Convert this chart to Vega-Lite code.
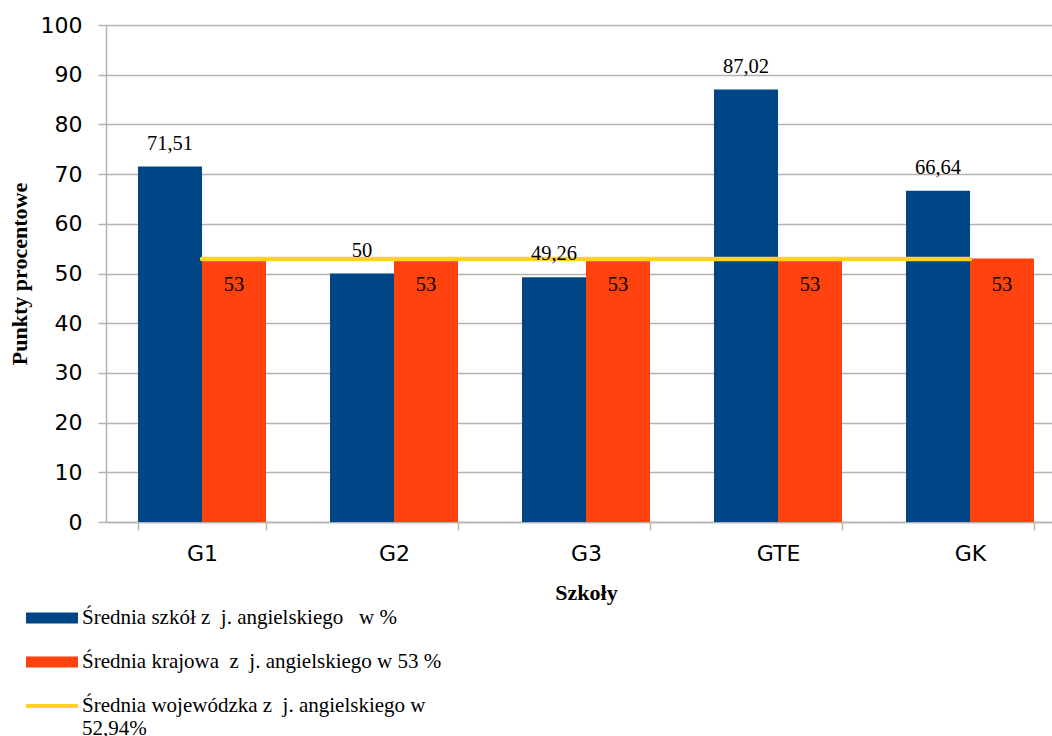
{
  "$schema": "https://vega.github.io/schema/vega-lite/v6.json",
  "autosize": {"type": "none"},
  "padding": {"left": 106, "top": 25, "right": 0, "bottom": 214},
  "width": 960,
  "height": 497,
  "datasets": {
    "bars": [
      {"school": "G1", "series": "Średnia szkół z\u00a0 j. angielskiego\u00a0\u00a0 w %", "value": 71.51},
      {"school": "G1", "series": "Średnia krajowa\u00a0 z\u00a0 j. angielskiego w 53 %", "value": 53},
      {"school": "G2", "series": "Średnia szkół z\u00a0 j. angielskiego\u00a0\u00a0 w %", "value": 50},
      {"school": "G2", "series": "Średnia krajowa\u00a0 z\u00a0 j. angielskiego w 53 %", "value": 53},
      {"school": "G3", "series": "Średnia szkół z\u00a0 j. angielskiego\u00a0\u00a0 w %", "value": 49.26},
      {"school": "G3", "series": "Średnia krajowa\u00a0 z\u00a0 j. angielskiego w 53 %", "value": 53},
      {"school": "GTE", "series": "Średnia szkół z\u00a0 j. angielskiego\u00a0\u00a0 w %", "value": 87.02},
      {"school": "GTE", "series": "Średnia krajowa\u00a0 z\u00a0 j. angielskiego w 53 %", "value": 53},
      {"school": "GK", "series": "Średnia szkół z\u00a0 j. angielskiego\u00a0\u00a0 w %", "value": 66.64},
      {"school": "GK", "series": "Średnia krajowa\u00a0 z\u00a0 j. angielskiego w 53 %", "value": 53}
    ],
    "line": [
      {"school": "G1", "series": "Średnia wojewódzka z\u00a0 j. angielskiego w 52,94%", "value": 52.94},
      {"school": "G2", "series": "Średnia wojewódzka z\u00a0 j. angielskiego w 52,94%", "value": 52.94},
      {"school": "G3", "series": "Średnia wojewódzka z\u00a0 j. angielskiego w 52,94%", "value": 52.94},
      {"school": "GTE", "series": "Średnia wojewódzka z\u00a0 j. angielskiego w 52,94%", "value": 52.94},
      {"school": "GK", "series": "Średnia wojewódzka z\u00a0 j. angielskiego w 52,94%", "value": 52.94}
    ]
  },
  "encoding": {
    "x": {
      "field": "school", "type": "nominal",
      "sort": ["G1", "G2", "G3", "GTE", "GK"],
      "scale": {"domain": ["G1", "G2", "G3", "GTE", "GK"], "paddingInner": 0.3333, "paddingOuter": 0.1667},
      "axis": {
        "title": "Szkoły", "labelAngle": 0, "grid": false, "tickBand": "extent",
        "labelFont": "DejaVu Sans", "labelFontSize": 22, "labelColor": "#000000", "labelPadding": 13,
        "tickSize": 8, "tickColor": "#b3b3b3", "domainColor": "#b3b3b3", "domainWidth": 1.5, "tickWidth": 1.5,
        "titleFont": "Liberation Serif", "titleFontSize": 22, "titleFontWeight": "bold", "titleColor": "#000000", "titlePadding": 18
      }
    },
    "y": {
      "field": "value", "type": "quantitative",
      "scale": {"domain": [0, 100], "nice": false},
      "axis": {
        "title": "Punkty procentowe", "values": [0, 10, 20, 30, 40, 50, 60, 70, 80, 90, 100],
        "labelFont": "DejaVu Sans", "labelFontSize": 22, "labelColor": "#000000", "labelPadding": 16,
        "tickSize": 8, "tickColor": "#b3b3b3", "domainColor": "#b3b3b3", "domainWidth": 1.5, "tickWidth": 1.5,
        "gridColor": "#b3b3b3", "gridWidth": 1.5,
        "titleFont": "Liberation Serif", "titleFontSize": 22, "titleFontWeight": "bold", "titleColor": "#000000", "titlePadding": 9
      }
    }
  },
  "layer": [
    {
      "data": {"name": "bars"},
      "mark": {"type": "bar"},
      "encoding": {
        "xOffset": {"field": "series", "type": "nominal", "scale": {"domain": ["Średnia szkół z\u00a0 j. angielskiego\u00a0\u00a0 w %", "Średnia krajowa\u00a0 z\u00a0 j. angielskiego w 53 %"], "paddingInner": 0, "paddingOuter": 0}},
        "color": {
          "field": "series", "type": "nominal",
          "scale": {
            "domain": ["Średnia szkół z\u00a0 j. angielskiego\u00a0\u00a0 w %", "Średnia krajowa\u00a0 z\u00a0 j. angielskiego w 53 %", "Średnia wojewódzka z\u00a0 j. angielskiego w 52,94%"],
            "range": ["#004586", "#ff420e", "#ffd320"]
          },
          "legend": {
            "title": null, "orient": "none", "legendX": -80, "legendY": 567, "direction": "vertical",
            "labelFont": "Liberation Serif", "labelFontSize": 21, "labelColor": "#000000", "labelLimit": 600,
            "labelOffset": 4, "rowPadding": 8, "symbolSize": 2704,
            "symbolType": "M-1,-0.212H1V0.212H-1Z",
            "symbolStrokeWidth": 0,
            "labelExpr": "datum.index == 2 ? ['Średnia wojewódzka z\u00a0 j. angielskiego w', '52,94%'] : datum.label",
            "encode": {
              "symbols": {"update": {
                "shape": {"signal": "datum.index == 2 ? 'M-1,-0.08H1V0.08H-1Z' : 'M-1,-0.212H1V0.212H-1Z'"},
                "fill": {"scale": "color", "field": "value"},
                "strokeWidth": {"value": 0},
                "opacity": {"value": 1}
              }},
              "labels": {"update": {"lineHeight": {"value": 23}}}
            }
          }
        }
      }
    },
    {
      "data": {"name": "line"},
      "mark": {"type": "line", "strokeWidth": 4.5, "strokeCap": "round"},
      "encoding": {
        "color": {"field": "series", "type": "nominal"}
      }
    },
    {
      "data": {"name": "bars"},
      "transform": [{"filter": "datum.value != 53"}],
      "mark": {"type": "text", "font": "Liberation Serif", "fontSize": 20.5, "color": "#000000", "baseline": "alphabetic", "dy": -17},
      "encoding": {
        "xOffset": {"field": "series", "type": "nominal"},
        "text": {"field": "value", "type": "quantitative"}
      }
    },
    {
      "data": {"name": "bars"},
      "transform": [{"filter": "datum.value == 53"}],
      "mark": {"type": "text", "font": "Liberation Serif", "fontSize": 20.5, "color": "#000000", "baseline": "alphabetic", "dy": 32},
      "encoding": {
        "xOffset": {"field": "series", "type": "nominal"},
        "text": {"field": "value", "type": "quantitative"}
      }
    }
  ],
  "config": {
    "locale": {"number": {"decimal": ",", "thousands": "\u00a0", "grouping": [3], "currency": ["", " zł"]}},
    "view": {"stroke": null}
  }
}
